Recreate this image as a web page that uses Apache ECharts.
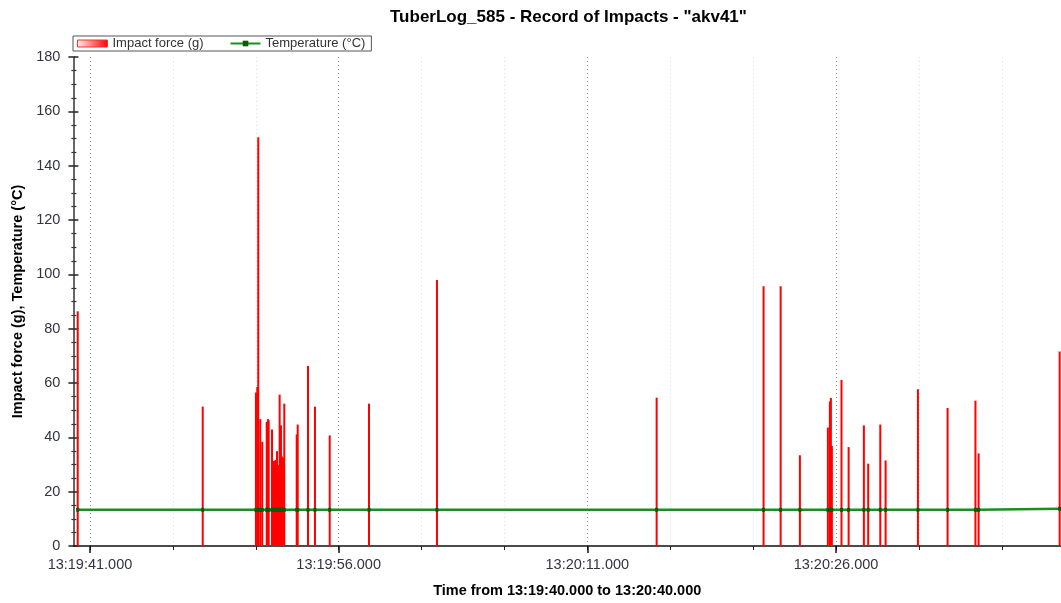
<!DOCTYPE html>
<html>
<head>
<meta charset="utf-8">
<script src="https://cdn.jsdelivr.net/npm/echarts@6/dist/echarts.min.js"></script>
<style>
html,body{margin:0;padding:0;background:#fff;}
#main{width:1061px;height:603px;}
</style>
</head>
<body>
<div id="main"></div>
<script>
// impact times
var impactTimes = [
    '13:19:40.260', '13:19:47.800', '13:19:51.010', '13:19:51.090', '13:19:51.150',
    '13:19:51.270', '13:19:51.390', '13:19:51.660', '13:19:51.740', '13:19:51.780',
    '13:19:51.980', '13:19:52.100', '13:19:52.180', '13:19:52.280', '13:19:52.360',
    '13:19:52.440', '13:19:52.520', '13:19:52.580', '13:19:52.640', '13:19:52.720',
    '13:19:53.470', '13:19:53.530', '13:19:54.150', '13:19:54.570', '13:19:55.460',
    '13:19:57.830', '13:20:01.930', '13:20:15.180', '13:20:21.630', '13:20:22.660',
    '13:20:23.820', '13:20:25.510', '13:20:25.630', '13:20:25.690', '13:20:25.750',
    '13:20:26.330', '13:20:26.760', '13:20:27.680', '13:20:27.940', '13:20:28.670',
    '13:20:28.990', '13:20:30.940', '13:20:32.730', '13:20:34.410', '13:20:34.600',
    '13:20:39.490'
];
var impactForce = [
    86.4, 51.3, 56.5, 58.5, 150.5,
    46.7, 38.4, 45.7, 46.7, 46.2,
    42.9, 31.3, 31.6, 34.9, 29.7,
    55.7, 44.4, 33.0, 32.4, 52.4,
    41.1, 44.7, 66.3, 51.3, 40.7,
    52.4, 97.9, 54.6, 95.6, 95.6,
    33.4, 43.6, 53.2, 54.5, 36.8,
    61.1, 36.4, 44.4, 30.3, 44.7,
    31.5, 57.7, 50.8, 53.5, 34.1,
    71.6
];
var temperature = [
    13.3, 13.3, 13.3, 13.3, 13.3,
    13.3, 13.3, 13.3, 13.3, 13.3,
    13.3, 13.3, 13.3, 13.3, 13.3,
    13.3, 13.3, 13.3, 13.3, 13.3,
    13.3, 13.3, 13.3, 13.3, 13.3,
    13.3, 13.3, 13.3, 13.3, 13.3,
    13.3, 13.3, 13.3, 13.3, 13.3,
    13.3, 13.3, 13.3, 13.3, 13.3,
    13.3, 13.3, 13.3, 13.3, 13.3,
    13.7
];
var majorTicks = [41, 56, 71, 86];
var minorTicks = [41, 46, 51, 56, 61, 66, 71, 76, 81, 86, 91, 96];

// seconds after 13:19:00
function toSec(s) {
    var p = s.split(':');
    return (parseInt(p[1], 10) - 19) * 60 + parseFloat(p[2]);
}
function fmtTime(v) {
    var m = 19 + Math.floor(v / 60);
    var s = Math.round(v - Math.floor(v / 60) * 60);
    return '13:' + m + ':' + (s < 10 ? '0' : '') + s + '.000';
}

var forceData = [], tempData = [];
for (var i = 0; i < impactTimes.length; i++) {
    forceData.push([toSec(impactTimes[i]), impactForce[i]]);
    tempData.push([toSec(impactTimes[i]), temperature[i]]);
}

var fontFam = '"Liberation Sans", Arial, sans-serif';
var chart = echarts.init(document.getElementById('main'));

// the plot runs to 13:20:40 but is cut off by the right edge of the picture
var xMax = 99.57;

var option = {
    animation: false,
    title: {
        text: 'TuberLog_585 - Record of Impacts - "akv41"',
        left: 385,
        top: 4,
        textStyle: { fontFamily: fontFam, fontSize: 17, fontWeight: 'bold', color: '#000' }
    },
    legend: {
        left: 73,
        top: 36,
        padding: [1, 6, 1, 4],
        itemGap: 26,
        itemWidth: 30,
        itemHeight: 7,
        borderColor: '#555',
        borderWidth: 1,
        borderRadius: 0,
        textStyle: { fontFamily: fontFam, fontSize: 13, color: '#333' },
        data: [
            {
                name: 'Impact force (g)',
                icon: 'rect',
                itemStyle: {
                    color: new echarts.graphic.LinearGradient(0, 0, 1, 0, [
                        { offset: 0, color: '#fff0f0' },
                        { offset: 1, color: '#ff0000' }
                    ]),
                    borderColor: '#ff3030',
                    borderWidth: 1
                }
            },
            { name: 'Temperature (°C)' }
        ]
    },
    grid: { left: 73.4, right: 0, top: 57, bottom: 55 },
    xAxis: [
        {
            type: 'value',
            min: 40,
            max: xMax,
            interval: 5,
            name: 'Time from 13:19:40.000 to 13:20:40.000',
            nameLocation: 'middle',
            nameGap: 37,
            nameTextStyle: { fontFamily: fontFam, fontSize: 14.5, fontWeight: 'bold', color: '#000' },
            axisLine: { show: true, lineStyle: { color: '#111', width: 1.5 } },
            axisTick: { show: true, length: 4, lineStyle: { color: '#222' }, customValues: minorTicks },
            axisLabel: {
                customValues: majorTicks,
                margin: 11,
                fontFamily: fontFam,
                fontSize: 14.5,
                color: '#333344',
                formatter: fmtTime
            },
            splitLine: { show: true, lineStyle: { color: '#dedede', type: [1, 3] } }
        },
        {
            type: 'value',
            min: 40,
            max: xMax,
            interval: 5,
            position: 'bottom',
            axisLine: { show: false },
            axisTick: { show: true, length: 7, lineStyle: { color: '#111', width: 1.5 }, customValues: majorTicks },
            axisLabel: { show: false, customValues: majorTicks },
            splitLine: { show: true, lineStyle: { color: '#999', type: [1, 3] } }
        }
    ],
    yAxis: [
        {
            type: 'value',
            min: 0,
            max: 180,
            interval: 20,
            name: 'Impact force (g), Temperature (°C)',
            nameLocation: 'middle',
            nameGap: 46,
            nameTextStyle: { fontFamily: fontFam, fontSize: 14.5, fontWeight: 'bold', color: '#000' },
            axisLine: { show: true, lineStyle: { color: '#333', width: 1.5 } },
            axisTick: { show: true, length: 5, lineStyle: { color: '#222', width: 1.5 } },
            minorTick: { show: true, splitNumber: 4, length: 2, lineStyle: { color: '#333', width: 1.2 } },
            axisLabel: { margin: 13, fontFamily: fontFam, fontSize: 14.5, color: '#333344' },
            splitLine: { show: false }
        },
        {
            type: 'value',
            min: 0,
            max: 180,
            interval: 20,
            position: 'left',
            axisLine: { show: false },
            axisTick: { show: true, inside: true, length: 5, lineStyle: { color: '#222', width: 1.5 } },
            minorTick: { show: true, splitNumber: 4, length: 3, lineStyle: { color: '#333', width: 1.2 } },
            axisLabel: { show: false },
            splitLine: { show: false }
        }
    ],
    series: [
        {
            name: 'Impact force (g)',
            type: 'bar',
            barWidth: 2,
            itemStyle: { color: '#ff0000' },
            data: forceData
        },
        {
            name: 'Temperature (°C)',
            type: 'line',
            symbol: 'rect',
            symbolSize: [3, 4],
            showSymbol: true,
            itemStyle: { color: '#0b5a0b' },
            lineStyle: { color: '#1e8c1e', width: 2.5 },
            data: tempData
        }
    ]
};
chart.setOption(option);
</script>
</body>
</html>
